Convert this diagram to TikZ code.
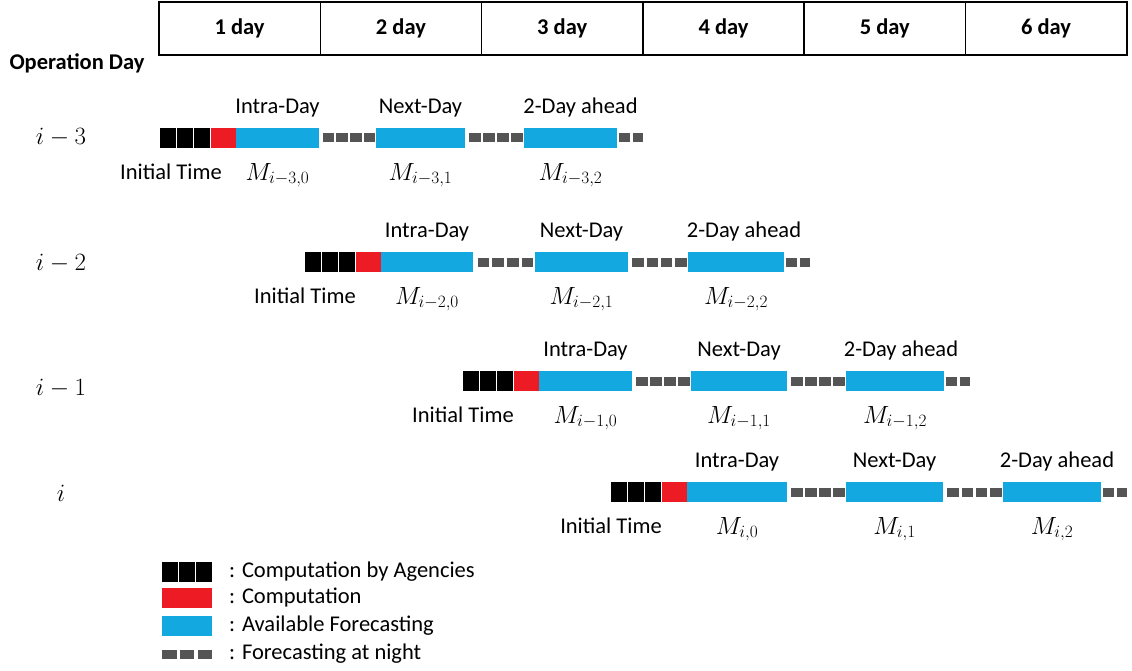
\documentclass[tikz,border=0pt]{standalone}
\usepackage{fontspec}
\setmainfont{Carlito}
\usepackage{tikz}
\usetikzlibrary{positioning,decorations}
\definecolor{compred}{RGB}{237,28,36}
\definecolor{fcstblue}{RGB}{20,168,224}
\definecolor{nightgray}{RGB}{85,85,85}

\begin{document}
\begin{tikzpicture}[x=1pt,y=-1pt,
    agency/.style={rectangle, fill=black, minimum width=16, minimum height=20, inner sep=0, outer sep=0},
    comp/.style={rectangle, fill=compred, minimum width=25, minimum height=20, inner sep=0, outer sep=0},
    fcst/.style={rectangle, fill=fcstblue, minimum height=20, inner sep=0, outer sep=0},
    night/.style={draw=nightgray, line width=9, dash pattern=on 11.5pt off 2pt, dash expand off, shorten <=1.5pt, shorten >=1.5pt},
    nighttail/.style={draw=nightgray, line width=9, dash pattern=on 11pt off 3pt, shorten <=1.5pt},
    daycell/.style={draw, line width=1.5, minimum width=161.3, minimum height=53, inner sep=0, outer sep=0, font=\fontsize{22.5}{27}\selectfont\bfseries},
    lab/.style={inner sep=0, font=\fontsize{22.5}{27}\selectfont},
    mlab/.style={inner sep=0, font=\fontsize{25}{30}\selectfont},
    rowlab/.style={inner sep=0, font=\fontsize{24}{29}\selectfont}]
    \useasboundingbox (0,0) rectangle (1132,671);

    % day header
    \node[daycell] (d1) at (239.6,28.5) {1 day};
    \node[daycell, right=0pt of d1] (d2) {2 day};
    \node[daycell, right=0pt of d2] (d3) {3 day};
    \node[daycell, right=0pt of d3] (d4) {4 day};
    \node[daycell, right=0pt of d4] (d5) {5 day};
    \node[daycell, right=0pt of d5] (d6) {6 day};
    \node[lab, font=\fontsize{22.5}{27}\selectfont\bfseries] (op) at (77,63) {Operation Day};

    % row i-3
    \node[rowlab] (l3) at (61,137) {$i-3$};
    \node[agency, anchor=west] (a31) at (160,138) {};
    \node[agency, right=1pt of a31] (a32) {};
    \node[agency, right=1pt of a32] (a33) {};
    \node[comp, right=1pt of a33] (r3) {};
    \node[fcst, right=0pt of r3, minimum width=83] (b30) {};
    \node[fcst, anchor=west, minimum width=89] (b31) at (376,138) {};
    \node[fcst, anchor=west, minimum width=93] (b32) at (524,138) {};
    \coordinate[right=26pt of b32] (e3);
    \draw[night] (b30) -- (b31);
    \draw[night] (b31) -- (b32);
    \draw[nighttail] (b32) -- (e3);
    \node[lab, above=11pt of b30] (t30) {Intra-Day};
    \node[lab, above=11pt of b31] (t31) {Next-Day};
    \node[lab, above=11pt of b32, xshift=10pt] (t32) {2-Day ahead};
    \node[mlab, below=15pt of b30] (m30) {$M_{i-3,0}$};
    \node[mlab, below=15pt of b31] (m31) {$M_{i-3,1}$};
    \node[mlab, below=15pt of b32] (m32) {$M_{i-3,2}$};
    \node[lab, below=16pt of a31.south west, xshift=11pt] (it3) {Initial Time};

    % row i-2
    \node[rowlab] (l2) at (61,263) {$i-2$};
    \node[agency, anchor=west] (a21) at (305,262) {};
    \node[agency, right=1pt of a21] (a22) {};
    \node[agency, right=1pt of a22] (a23) {};
    \node[comp, right=1pt of a23] (r2) {};
    \node[fcst, right=0pt of r2, minimum width=92] (b20) {};
    \node[fcst, anchor=west, minimum width=93] (b21) at (535,262) {};
    \node[fcst, anchor=west, minimum width=96] (b22) at (688,262) {};
    \coordinate[right=26pt of b22] (e2);
    \draw[night] (b20) -- (b21);
    \draw[night] (b21) -- (b22);
    \draw[nighttail] (b22) -- (e2);
    \node[lab, above=11pt of b20] (t20) {Intra-Day};
    \node[lab, above=11pt of b21] (t21) {Next-Day};
    \node[lab, above=11pt of b22, xshift=8pt] (t22) {2-Day ahead};
    \node[mlab, below=15pt of b20] (m20) {$M_{i-2,0}$};
    \node[mlab, below=15pt of b21] (m21) {$M_{i-2,1}$};
    \node[mlab, below=15pt of b22] (m22) {$M_{i-2,2}$};
    \node[lab, below=16pt of a21.south west] (it2) {Initial Time};

    % row i-1
    \node[rowlab] (l1) at (61,388) {$i-1$};
    \node[agency, anchor=west] (a11) at (463,381) {};
    \node[agency, right=1pt of a11] (a12) {};
    \node[agency, right=1pt of a12] (a13) {};
    \node[comp, right=1pt of a13] (r1) {};
    \node[fcst, right=0pt of r1, minimum width=93] (b10) {};
    \node[fcst, anchor=west, minimum width=96] (b11) at (691,381) {};
    \node[fcst, anchor=west, minimum width=98] (b12) at (846,381) {};
    \coordinate[right=26pt of b12] (e1);
    \draw[night] (b10) -- (b11);
    \draw[night] (b11) -- (b12);
    \draw[nighttail] (b12) -- (e1);
    \node[lab, above=11pt of b10] (t10) {Intra-Day};
    \node[lab, above=11pt of b11] (t11) {Next-Day};
    \node[lab, above=11pt of b12, xshift=6pt] (t12) {2-Day ahead};
    \node[mlab, below=15pt of b10] (m10) {$M_{i-1,0}$};
    \node[mlab, below=15pt of b11] (m11) {$M_{i-1,1}$};
    \node[mlab, below=15pt of b12] (m12) {$M_{i-1,2}$};
    \node[lab, below=16pt of a11.south west] (it1) {Initial Time};

    % row i
    \node[rowlab] (l0) at (61,493) {$i$};
    \node[agency, anchor=west] (a01) at (611,492) {};
    \node[agency, right=1pt of a01] (a02) {};
    \node[agency, right=1pt of a02] (a03) {};
    \node[comp, right=1pt of a03] (r0) {};
    \node[fcst, right=0pt of r0, minimum width=100] (b00) {};
    \node[fcst, anchor=west, minimum width=97] (b01) at (846,492) {};
    \node[fcst, anchor=west, minimum width=98] (b02) at (1003,492) {};
    \coordinate[right=26pt of b02] (e0);
    \draw[night] (b00) -- (b01);
    \draw[night] (b01) -- (b02);
    \draw[nighttail] (b02) -- (e0);
    \node[lab, above=11pt of b00] (t00) {Intra-Day};
    \node[lab, above=11pt of b01] (t01) {Next-Day};
    \node[lab, above=11pt of b02, xshift=5pt] (t02) {2-Day ahead};
    \node[mlab, below=15pt of b00] (m00) {$M_{i,0}$};
    \node[mlab, below=15pt of b01] (m01) {$M_{i,1}$};
    \node[mlab, below=15pt of b02] (m02) {$M_{i,2}$};
    \node[lab, below=16pt of a01.south west] (it0) {Initial Time};

    % legend
    \node[agency, anchor=west] (k1) at (162,572) {};
    \node[agency, right=1pt of k1] (k2) {};
    \node[agency, right=1pt of k2] (k3) {};
    \node[comp, anchor=west, minimum width=50] (k4) at (162,598) {};
    \node[fcst, anchor=west, minimum width=50] (k5) at (162,626) {};
    \coordinate (k6) at (162,654);
    \coordinate (k7) at (212,654);
    \draw[night, shorten <=0pt, shorten >=0pt, dash pattern=on 14.5pt off 3.25pt] (k6) -- (k7);
    \node[lab, right=17pt of k3] (g1) {: Computation by Agencies};
    \node[lab, right=17pt of k4] (g2) {: Computation};
    \node[lab, right=17pt of k5] (g3) {: Available Forecasting};
    \node[lab, right=17pt of k7] (g4) {: Forecasting at night};
\end{tikzpicture}
\end{document}
